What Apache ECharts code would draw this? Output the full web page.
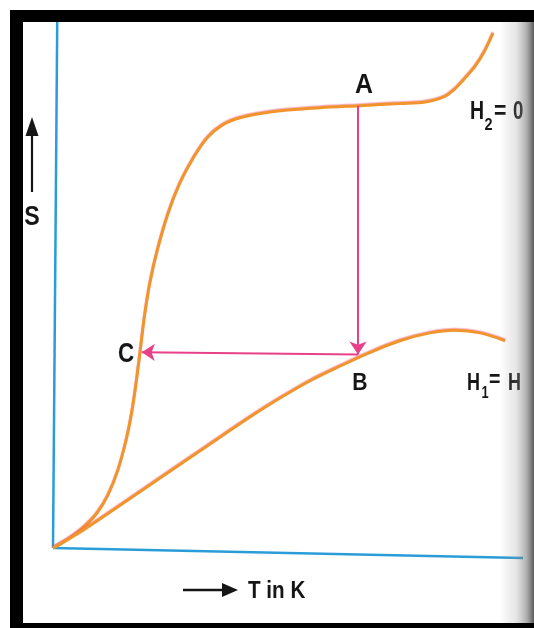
<!DOCTYPE html>
<html>
<head>
<meta charset="utf-8">
<script src="https://cdn.jsdelivr.net/npm/echarts@6/dist/echarts.min.js"></script>
<style>
  html, body { margin: 0; padding: 0; background: #ffffff; }
  #chart { width: 534px; height: 628px; }
</style>
</head>
<body>
<div id="chart"></div>
<script>
// Temperature (T, arbitrary units 0-100) and entropy (S, arbitrary units 0-100)
const T_H2 = [0, 3.6, 6.8, 9.4, 11.7, 13.8, 15.7, 17.0, 18.3, 19.4, 20.6, 22.3, 24.5, 27.0, 29.8, 32.8, 36.0, 39.8, 46.2, 56.8, 65.3, 73.8, 79.2, 83.0, 85.5, 87.7, 89.8, 91.7, 93.6];
const S_H2 = [0, 1.9, 4.2, 6.7, 10.1, 14.8, 21.1, 27.2, 35.7, 43.7, 50.4, 57.0, 63.7, 69.4, 74.1, 78.0, 80.4, 81.8, 82.9, 83.7, 84.1, 84.5, 84.8, 85.7, 87.3, 89.4, 91.6, 94.3, 97.9];
const T_H1 = [0, 6.4, 18.5, 32.8, 41.9, 48.3, 54.7, 61.1, 67.5, 73.8, 80.2, 85.5, 90.9, 96.2];
const S_H1 = [0, 3.4, 10.7, 19.4, 24.9, 28.5, 31.8, 34.6, 37.2, 39.4, 40.9, 41.4, 40.9, 39.4];
const POINT_A = [64.9, 84.1];
const POINT_B = [64.9, 36.8];
const POINT_C = [18.9, 37.2];
const AXIS_T = [[0, 0], [100, -1.9]];
const AXIS_S = [[0, 0], [0.9, 100]];

const zip = (xs, ys) => xs.map((x, i) => [x, ys[i]]);

const chart = echarts.init(document.getElementById('chart'), null, { renderer: 'canvas' });

const FONT = 'Liberation Sans, Arial, sans-serif';
function txt(text, x, y, size, opts) {
  opts = opts || {};
  return {
    type: 'text', x: x, y: y, scaleX: opts.scaleX || 0.85, z: 50,
    style: {
      text: text, x: 0, y: 0, fill: '#161616',
      font: (opts.weight || 'bold') + ' ' + size + 'px ' + FONT,
      align: opts.align || 'center', verticalAlign: 'middle'
    }
  };
}

const curveStyle = { color: '#f2942c', width: 3, shadowColor: 'rgba(235,70,110,0.45)', shadowBlur: 1, shadowOffsetY: -1 };

const option = {
  backgroundColor: '#ffffff',
  animation: false,
  grid: { left: 53, right: 11, top: 22, bottom: 80 },
  xAxis: { type: 'value', min: 0, max: 100, show: false },
  yAxis: { type: 'value', min: 0, max: 100, show: false },
  series: [
    {
      type: 'line', data: AXIS_T, clip: false, symbol: 'none', z: 1,
      lineStyle: { color: '#2a9dd8', width: 2.7 }
    },
    {
      type: 'line', data: AXIS_S, clip: false, symbol: 'none', z: 1,
      lineStyle: { color: '#2a9dd8', width: 2.5 }
    },
    {
      name: 'H2=0', type: 'line', data: zip(T_H2, S_H2), smooth: 0.35,
      symbol: 'none', clip: false, z: 3, lineStyle: curveStyle
    },
    {
      name: 'H1=H', type: 'line', data: zip(T_H1, S_H1), smooth: 0.35,
      symbol: 'none', clip: false, z: 3, lineStyle: curveStyle
    },
    {
      type: 'lines', coordinateSystem: 'cartesian2d', z: 4,
      symbol: ['none', 'arrow'], symbolSize: [0, 13],
      lineStyle: { color: '#e8418a', width: 2, opacity: 1, curveness: 0 },
      data: [
        { coords: [POINT_A, POINT_B] },
        { coords: [POINT_B, POINT_C] }
      ]
    }
  ],
  graphic: [
    // labels
    txt('A', 364, 86, 27, { scaleX: 0.92 }),
    txt('B', 360, 383, 24, { scaleX: 0.88 }),
    txt('C', 126, 354, 28, { scaleX: 0.8 }),
    txt('S', 32, 218, 27, { scaleX: 0.86 }),
    txt('H', 470, 112, 26, { align: 'left', scaleX: 0.75 }),
    txt('2', 484.5, 125, 17, { align: 'left', scaleX: 0.85 }),
    txt('=', 494, 112, 25, { align: 'left', scaleX: 0.85 }),
    txt('0', 513, 112, 26, { align: 'left', scaleX: 0.72 }),
    txt('H', 467, 383, 24, { align: 'left', scaleX: 0.75 }),
    txt('1', 481.5, 394, 16, { align: 'left', scaleX: 0.8 }),
    txt('=', 489, 381, 23, { align: 'left', scaleX: 0.85 }),
    txt('H', 508, 383, 24, { align: 'left', scaleX: 0.75 }),
    txt('T in K', 248, 591, 24, { align: 'left', scaleX: 0.86 }),
    // S up arrow
    { type: 'line', z: 50, shape: { x1: 32, y1: 192, x2: 32, y2: 133 }, style: { stroke: '#161616', lineWidth: 2.2 } },
    { type: 'polygon', z: 50, shape: { points: [[32, 117], [25.5, 136], [38.5, 136]] }, style: { fill: '#161616' } },
    // T right arrow
    { type: 'line', z: 50, shape: { x1: 183, y1: 590, x2: 226, y2: 590 }, style: { stroke: '#161616', lineWidth: 2.5 } },
    { type: 'polygon', z: 50, shape: { points: [[238, 590], [222, 583], [222, 597]] }, style: { fill: '#161616' } },
    // page gutter shadow on right
    {
      type: 'rect', z: 90, shape: { x: 500, y: 22, width: 34, height: 602 },
      style: {
        fill: new echarts.graphic.LinearGradient(0, 0, 1, 0, [
          { offset: 0, color: 'rgba(120,120,120,0)' },
          { offset: 0.45, color: 'rgba(150,150,150,0.22)' },
          { offset: 0.78, color: 'rgba(110,110,110,0.55)' },
          { offset: 1, color: 'rgba(60,60,60,0.85)' }
        ])
      }
    },
    // black frame
    { type: 'rect', z: 100, shape: { x: 10, y: 10, width: 524, height: 12 }, style: { fill: '#000000' } },
    { type: 'rect', z: 100, shape: { x: 10, y: 10, width: 13, height: 618 }, style: { fill: '#000000' } },
    { type: 'rect', z: 100, shape: { x: 10, y: 623, width: 524, height: 5 }, style: { fill: '#000000' } }
  ]
};

chart.setOption(option);
</script>
</body>
</html>
